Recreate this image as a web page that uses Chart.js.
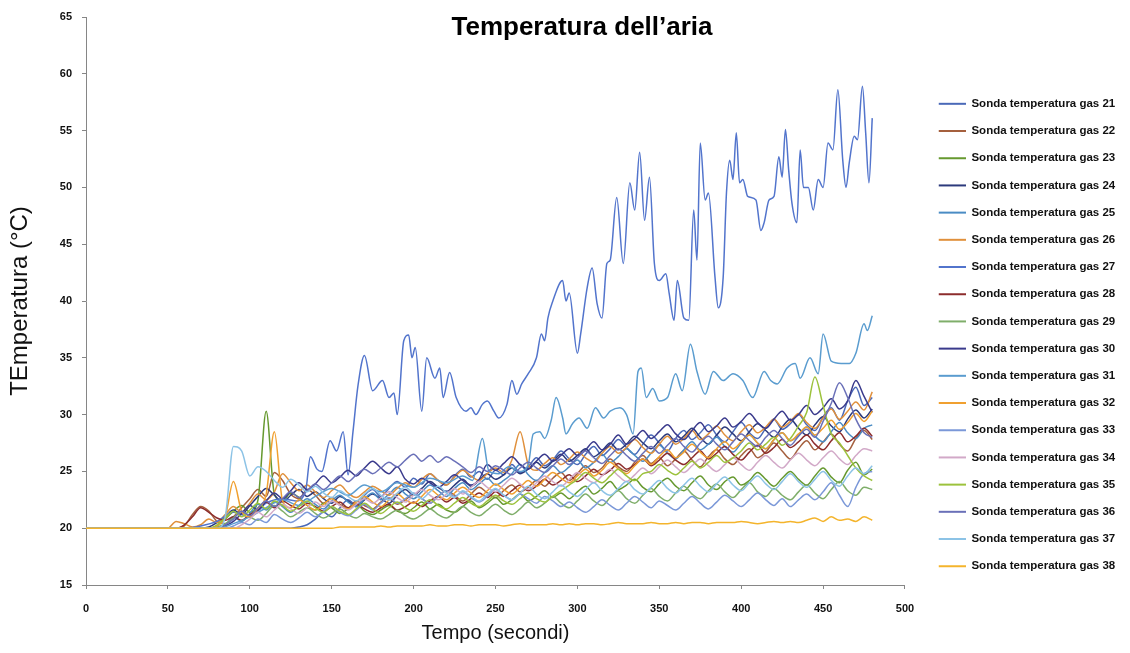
<!DOCTYPE html>
<html>
<head>
<meta charset="utf-8">
<script src="https://cdn.jsdelivr.net/npm/chart.js@4.4.1/dist/chart.umd.min.js"></script>
<style>
  html, body { margin: 0; padding: 0; background: #ffffff; }
  #wrap { width: 1130px; height: 653px; position: relative; }
</style>
</head>
<body>
<div id="wrap"><canvas id="grafico"></canvas></div>
<script>
// Istanti di campionamento comuni (secondi)
const tempo = [
  0, 50, 55, 60, 65, 70, 75, 80, 85, 90,
  95, 100, 105, 110, 115, 120, 125, 130, 135, 140,
  145, 150, 155, 160, 165, 170, 175, 180, 185, 190,
  195, 200, 205, 210, 215, 220, 225, 230, 235, 240,
  245, 250, 255, 260, 265, 270, 275, 280, 285, 290,
  295, 300, 305, 310, 315, 320, 325, 330, 335, 340,
  345, 350, 355, 360, 365, 370, 375, 380, 385, 390,
  395, 400, 405, 410, 415, 420, 425, 430, 435, 440,
  445, 450, 455, 460, 465, 470, 475, 480
];

// Temperature (°C) delle sonde campionate su "tempo"
const sonda21 = [
  20, 20, 20, 20, 20, 20, 20, 20, 20, 20,
  20, 20, 20, 20, 20, 20, 20, 20.1, 20.3, 20.8,
  21.4, 21.0, 21.8, 22.5, 22.0, 22.9, 23.4, 22.8, 23.5, 24.1,
  23.6, 24.4, 23.9, 24.8, 24.2, 23.8, 24.6, 25.2, 24.5, 25.0,
  24.3, 25.1, 24.7, 25.6, 24.9, 25.4, 26.2, 25.5, 26.0, 26.8,
  26.1, 25.6, 26.5, 27.2, 26.4, 27.0, 27.8, 27.1, 26.5, 27.4,
  28.2, 27.5, 26.8, 27.9, 28.6, 27.8, 28.4, 29.1, 28.2, 27.6,
  28.5, 29.3, 28.4, 27.9, 28.8, 29.6, 28.7, 29.2, 30.0, 29.1,
  28.6, 29.8, 30.6, 29.5, 31.2, 32.4, 30.8, 31.5
];
const sonda22 = [
  20, 20, 20, 20.2, 21.2, 21.9, 21.5, 20.6, 20.4, 21.0,
  21.8, 22.6, 23.4, 22.8, 24.9, 24.2, 23.0, 22.6, 23.4, 22.9,
  22.2, 22.7, 22.1, 21.8, 22.4, 22.0, 21.7, 22.3, 22.6, 22.1,
  22.5, 23.0, 22.6, 22.2, 22.8, 23.3, 22.9, 22.4, 23.0, 23.6,
  23.1, 22.7, 23.3, 23.8, 23.2, 23.6, 24.2, 23.7, 24.4, 24.9,
  24.2, 24.8, 25.5, 24.9, 25.3, 26.1, 25.4, 25.0, 25.8, 26.4,
  25.7, 26.2, 25.5, 26.1, 26.8, 26.0, 25.4, 26.3, 26.9, 26.1,
  25.6, 26.4, 27.0, 26.2, 26.7, 27.5, 26.8, 26.1, 27.0, 27.7,
  26.9, 27.6, 28.3, 27.4, 26.8, 27.9, 28.6, 27.8
];
const sonda23 = [
  20, 20, 20, 20, 20, 20, 20, 20.2, 20.8, 21.5,
  22.0, 21.4, 22.5, 30.3, 23.0, 22.4, 23.1, 22.7, 22.0, 21.6,
  22.2, 21.8, 21.3, 21.7, 22.1, 21.5, 21.2, 21.6, 22.0, 21.5,
  21.3, 21.8, 22.3, 21.7, 22.1, 21.6, 21.4, 21.9, 22.4, 21.8,
  22.2, 22.7, 22.1, 22.5, 23.0, 22.4, 22.8, 23.3, 22.7, 23.1,
  22.6, 23.2, 23.7, 23.0, 23.5, 24.1, 23.4, 23.8, 24.3, 23.6,
  23.2, 23.9, 24.4, 23.7, 23.3, 24.0, 24.6, 23.8, 23.4, 24.1,
  24.5, 23.8, 24.2, 24.9, 24.3, 23.7, 24.4, 25.0, 24.3, 23.8,
  24.6, 25.3, 24.5, 24.0, 25.1, 25.8, 24.7, 25.2
];
const sonda24 = [
  20, 20, 20, 20, 20, 20, 20.1, 20.5, 21.0, 21.6,
  21.2, 22.0, 22.8, 23.5, 22.9, 22.3, 22.9, 23.4, 22.8, 23.2,
  22.6, 22.2, 22.8, 22.4, 21.9, 22.5, 23.0, 22.6, 22.2, 22.9,
  23.4, 22.9, 23.5, 24.1, 23.6, 23.2, 23.8, 24.3, 23.7, 24.2,
  24.8, 24.3, 24.7, 25.3, 24.8, 25.2, 25.8, 25.3, 25.9, 26.5,
  25.9, 26.4, 27.0, 26.3, 26.8, 27.5, 26.9, 27.4, 28.1, 27.5,
  27.0, 27.7, 28.3, 27.6, 28.1, 28.8, 28.0, 27.4, 28.2, 28.9,
  28.3, 27.7, 28.5, 29.2, 28.6, 28.0, 28.9, 29.6, 28.8, 28.2,
  29.1, 29.8, 29.0, 28.5, 29.6, 30.4, 29.7, 30.5
];
const sonda25 = [
  20, 20, 20, 20, 20, 20, 20, 20, 20.3, 21.0,
  20.6, 21.3, 22.1, 21.6, 22.3, 21.9, 21.4, 22.0, 22.6, 22.1,
  21.7, 22.4, 22.9, 22.3, 21.9, 22.6, 23.1, 22.5, 23.0, 23.6,
  23.0, 22.6, 23.2, 23.8, 23.3, 22.8, 23.5, 24.0, 23.4, 23.9,
  24.4, 23.8, 24.2, 24.8, 25.6, 24.7, 24.2, 24.9, 25.5, 24.9,
  25.4, 26.0, 25.3, 25.8, 26.5, 25.8, 26.3, 27.0, 26.4, 25.9,
  26.6, 27.3, 26.6, 26.1, 26.9, 27.6, 26.9, 27.4, 28.0, 27.2,
  26.7, 27.5, 28.2, 27.5, 27.0, 27.8, 28.4, 27.7, 28.2, 28.9,
  28.1, 27.6, 28.5, 29.3, 28.4, 27.9, 28.8, 29.1
];
const sonda26 = [
  20, 20, 20.6, 20.4, 20.1, 20.3, 20.8, 20.5, 21.2, 21.9,
  21.4, 22.2, 23.0, 22.5, 23.2, 24.8, 24.0, 23.3, 23.8, 23.2,
  22.7, 23.3, 23.8, 23.1, 22.7, 23.2, 23.7, 23.3, 22.9, 23.5,
  24.0, 23.6, 24.3, 24.8, 24.2, 23.8, 24.5, 25.1, 24.6, 24.2,
  24.8, 25.3, 24.9, 26.0, 28.5, 25.6, 25.1, 25.7, 26.2, 25.6,
  26.1, 26.7, 26.2, 25.8, 26.6, 27.2, 26.6, 27.1, 27.8, 27.1,
  26.6, 27.4, 28.1, 27.4, 27.9, 28.6, 27.8, 28.3, 29.0, 28.2,
  27.7, 28.5, 29.1, 28.4, 28.9, 29.6, 28.9, 29.4, 30.1, 29.3,
  28.8, 29.7, 30.5, 29.6, 30.3, 31.1, 30.4, 32.0
];
const sonda28 = [
  20, 20, 20, 20.3, 21.0, 21.8, 21.4, 20.9, 20.7, 21.0,
  20.7, 21.2, 21.6, 22.3, 21.8, 22.4, 22.0, 21.7, 22.2, 21.9,
  21.5, 21.9, 22.3, 21.8, 22.1, 21.7, 21.4, 21.8, 22.1, 21.6,
  21.9, 22.3, 21.9, 22.4, 22.8, 22.3, 22.7, 22.2, 22.6, 23.1,
  22.7, 23.2, 22.8, 23.3, 23.8, 23.3, 23.7, 24.3, 23.8, 24.2,
  24.7, 24.1, 24.6, 25.2, 24.7, 25.1, 25.7, 25.2, 25.6, 26.1,
  25.5, 26.0, 26.6, 26.0, 25.6, 26.2, 26.8, 26.1, 26.6, 27.2,
  26.5, 26.0, 26.7, 27.3, 26.6, 27.1, 27.8, 27.1, 27.6, 28.2,
  27.4, 26.9, 27.7, 28.4, 27.6, 28.1, 28.8, 28.1
];
const sonda29 = [
  20, 20, 20, 20, 20, 20, 20, 20.1, 20.4, 20.9,
  21.5, 21.0, 20.7, 21.3, 22.0, 21.5, 21.0, 21.4, 21.8, 21.3,
  20.9, 21.3, 21.7, 21.2, 20.9, 21.3, 21.0, 20.8, 21.2, 21.6,
  21.1, 20.8, 21.2, 21.7, 21.2, 20.9, 21.4, 21.9, 21.4, 21.1,
  21.6, 22.1, 21.6, 21.2, 21.7, 22.3, 21.8, 22.2, 22.8, 22.2,
  21.8, 22.4, 23.0, 22.4, 22.0, 22.7, 23.3, 22.6, 22.2, 22.9,
  23.5, 22.8, 22.4, 23.1, 23.7, 23.0, 22.6, 23.3, 23.9, 23.2,
  22.7, 23.4, 24.0, 23.2, 22.8, 23.5, 22.9, 22.5, 23.2, 23.8,
  23.1, 22.6, 23.4, 24.1, 23.3, 22.9, 23.6, 23.4
];
const sonda30 = [
  20, 20, 20, 20, 20, 20, 20, 20, 20.2, 20.6,
  21.3, 22.0, 21.6, 22.4, 23.1, 22.6, 23.3, 24.0, 23.4, 23.9,
  24.6, 24.0, 24.5, 25.1, 24.6, 25.3, 25.9, 25.3, 24.8, 25.4,
  24.3, 23.9, 24.4, 24.0, 23.6, 24.1, 24.7, 24.2, 23.8, 24.3,
  25.6, 25.1, 25.7, 26.3, 25.6, 25.2, 25.9, 26.5, 25.9, 26.4,
  27.0, 26.4, 26.9, 27.6, 26.9, 27.4, 28.2, 27.4, 27.9, 28.6,
  27.9, 28.5, 29.1, 28.3, 27.8, 28.6, 29.3, 28.5, 29.0, 29.7,
  28.9, 29.4, 30.1, 29.3, 28.8, 29.6, 30.3, 29.5, 30.0, 30.8,
  30.0, 30.6, 31.4, 30.5, 31.2, 33.0, 31.6, 30.2
];
const sonda32 = [
  20, 20, 20, 20, 20, 20, 20, 20.2, 21.0, 24.1,
  21.5, 21.0, 21.8, 23.0, 28.5, 22.4, 21.8, 22.5, 22.0, 21.6,
  22.1, 22.6, 22.0, 21.7, 22.3, 22.8, 22.3, 21.9, 22.5, 23.0,
  22.5, 22.2, 22.8, 23.4, 22.9, 22.5, 23.1, 23.6, 23.1, 22.7,
  23.3, 23.9, 23.4, 23.0, 23.6, 24.2, 23.7, 24.3, 24.9, 24.4,
  24.0, 24.6, 25.2, 24.6, 25.1, 25.8, 25.2, 24.8, 25.5, 26.1,
  25.6, 26.3, 26.9, 26.2, 26.7, 27.4, 26.7, 26.2, 27.0, 27.6,
  27.0, 27.6, 28.2, 27.5, 27.0, 27.8, 28.4, 27.7, 28.3, 28.9,
  28.2, 28.8, 29.5, 28.7, 29.3, 30.1, 29.4, 30.3
];
const sonda33 = [
  20, 20, 20, 20, 20, 20, 20, 20, 20, 20.2,
  20.5, 20.3, 20.8, 20.5, 21.2, 20.8, 20.5, 20.9, 21.4, 21.0,
  21.5, 21.9, 21.4, 21.1, 21.6, 22.1, 21.6, 22.2, 22.7, 22.2,
  22.6, 23.1, 22.6, 22.2, 22.8, 23.3, 22.8, 23.2, 22.7, 22.3,
  22.8, 23.4, 22.9, 22.5, 23.0, 22.6, 22.2, 22.8, 22.4, 21.9,
  22.3, 21.8, 21.4, 21.9, 22.5, 22.0, 21.6, 22.2, 22.8, 22.3,
  21.8, 22.4, 22.0, 21.6, 22.2, 22.8, 22.2, 21.7, 22.3, 22.9,
  22.4, 21.9, 22.5, 23.1, 22.5, 22.0, 22.6, 21.9, 22.5, 23.0,
  22.5, 23.2, 24.0, 22.9, 21.9, 23.6, 24.8, 25.0
];
const sonda34 = [
  20, 20, 20, 20, 20, 20, 20, 20, 20, 20,
  20.3, 20.8, 21.4, 21.0, 21.6, 22.1, 21.7, 21.3, 21.8, 22.3,
  21.9, 22.4, 22.0, 21.6, 22.1, 22.6, 22.2, 22.7, 23.2, 22.7,
  22.3, 22.9, 23.4, 22.9, 22.5, 23.0, 23.5, 23.0, 23.6, 24.1,
  23.6, 23.2, 23.8, 24.4, 23.9, 23.4, 24.0, 24.6, 24.1, 23.7,
  24.3, 24.9, 24.4, 24.0, 24.6, 25.2, 24.6, 24.1, 24.7, 25.3,
  24.8, 25.4, 26.0, 25.4, 24.9, 25.5, 26.1, 25.5, 25.0, 25.6,
  26.2, 25.6, 25.1, 25.8, 26.4, 25.8, 25.3, 26.0, 26.6, 26.0,
  25.5, 26.2, 26.8, 26.1, 25.6, 26.4, 27.0, 26.8
];
const sonda35 = [
  20, 20, 20, 20, 20, 20, 20, 20.3, 20.9, 21.5,
  21.0, 21.6, 22.2, 21.7, 22.4, 22.0, 21.5, 21.9, 22.4, 21.8,
  21.4, 21.9, 21.5, 21.2, 21.7, 22.2, 21.7, 21.3, 21.8, 22.3,
  21.8, 21.5, 22.0, 22.5, 22.0, 21.7, 22.2, 22.7, 22.2, 21.9,
  22.4, 22.9, 22.4, 22.1, 22.6, 23.1, 22.6, 22.3, 22.8, 23.3,
  23.8, 24.3, 24.9, 24.4, 24.0, 24.6, 25.2, 24.6, 24.2, 24.8,
  25.0, 25.6, 25.1, 24.7, 25.3, 25.9, 25.3, 25.8, 26.4, 25.8,
  26.2, 26.8, 27.5, 26.9, 27.4, 28.0, 27.3, 27.9, 29.0, 30.2,
  33.3, 30.8, 28.3, 27.5, 26.4, 25.3, 24.6, 24.2
];
const sonda36 = [
  20, 20, 20, 20, 20, 20, 20, 20, 20.3, 20.8,
  21.5, 21.1, 21.8, 22.4, 21.9, 22.6, 23.2, 22.7, 23.3, 23.9,
  23.4, 24.0, 24.6, 24.1, 24.7, 25.2, 24.8, 25.3, 25.8, 25.4,
  26.0, 26.5, 25.9, 26.4, 25.8, 26.3, 25.9, 25.4, 24.9, 25.4,
  25.0, 25.5, 25.1, 24.7, 25.3, 25.8, 25.3, 24.9, 25.5, 26.1,
  25.6, 26.2, 26.8, 26.2, 25.7, 26.4, 27.0, 26.4, 25.9, 26.6,
  27.2, 26.6, 27.3, 27.9, 27.2, 26.7, 27.5, 28.1, 27.4, 26.9,
  27.6, 28.3, 27.7, 27.2, 28.0, 28.6, 27.9, 27.3, 28.1, 28.7,
  28.0, 29.4, 31.0, 32.8, 31.5, 29.6, 28.4, 28.0
];
const sonda37 = [
  20, 20, 20, 20, 20, 20, 20, 20, 21.0, 27.2,
  26.8, 24.6, 25.4, 25.0, 24.2, 23.6, 24.3, 23.8, 23.2, 23.7,
  23.1, 22.7, 23.3, 22.8, 22.4, 23.0, 23.5, 22.9, 22.5, 23.1,
  23.6, 23.0, 22.6, 23.2, 23.7, 23.1, 22.7, 23.3, 22.8, 22.4,
  23.0, 23.5, 22.9, 22.5, 23.1, 23.7, 23.0, 22.6, 23.2, 23.8,
  23.2, 22.8, 23.4, 24.0, 23.3, 22.9, 23.5, 24.1, 23.4, 23.0,
  23.6, 24.2, 23.5, 23.1, 23.8, 24.4, 23.7, 23.2, 23.9, 24.5,
  23.8, 23.3, 24.0, 24.6, 23.9, 23.4, 24.1, 24.8, 24.1, 23.6,
  24.3, 25.0, 24.2, 23.7, 24.6, 25.3, 24.8, 25.5
];
const sonda38 = [
  20, 20, 20, 20, 20, 20, 20, 20, 20, 20,
  20, 20, 20, 20, 20, 20, 20, 20, 20, 20,
  20, 20, 20.1, 20.1, 20.1, 20.1, 20.1, 20.2, 20.1, 20.2,
  20.2, 20.2, 20.2, 20.3, 20.2, 20.2, 20.3, 20.3, 20.2, 20.3,
  20.3, 20.3, 20.2, 20.3, 20.4, 20.3, 20.3, 20.3, 20.4, 20.3,
  20.4, 20.3, 20.4, 20.4, 20.3, 20.4, 20.5, 20.4, 20.4, 20.4,
  20.5, 20.4, 20.4, 20.5, 20.4, 20.5, 20.5, 20.4, 20.5, 20.5,
  20.5, 20.6, 20.5, 20.4, 20.5, 20.6, 20.5, 20.6, 20.5, 20.7,
  20.9, 20.6, 21.0, 20.7, 20.8, 20.6, 21.0, 20.7
];

// Sonda 27: registrazione più fitta (istanti propri)
const tempo27 = [
  0, 60, 70, 80, 90, 100, 110, 120, 128, 134,
  137, 141, 144, 149, 153, 157, 160, 163, 166, 170,
  175, 181, 185, 188, 190, 194, 197, 199, 201, 205,
  208, 213, 216, 218, 222, 226, 232, 235, 238, 242,
  245, 249, 252, 257, 260, 263, 266, 270, 275, 278,
  280, 282, 285, 291, 293, 295, 300, 302, 306, 309,
  312, 315, 318, 320, 324, 328, 332, 335, 338, 341,
  344, 347, 350, 354, 356, 359, 361, 365, 368, 371,
  373, 375, 378, 380, 384, 386, 389, 391, 393, 395,
  397, 399, 401, 404, 409, 412, 414, 417, 420, 423,
  425, 427, 429, 431, 434, 436, 438, 441, 444, 447,
  450, 453, 456, 459, 462, 464, 466, 469, 471, 474,
  476, 478, 480
];
const sonda27 = [
  20, 20, 20.2, 20.6, 21.4, 21.0, 22.2, 22.6, 22.4, 23.2,
  26.3, 25.2, 25.0, 27.7, 26.8, 28.5, 24.7, 28.5, 32.5, 35.2,
  32.1, 33.0, 31.5, 31.9, 30.0, 36.5, 37.0, 35.0, 35.9, 30.3,
  35.0, 33.2, 34.1, 31.5, 33.7, 31.5, 30.3, 30.6, 30.0, 30.9,
  31.2, 30.3, 29.7, 30.9, 33.0, 31.8, 32.7, 33.6, 35.0, 37.1,
  36.5, 38.5, 40.0, 41.8, 40.0, 40.7, 35.4, 37.1, 41.2, 42.9,
  39.8, 38.5, 43.3, 43.6, 49.1, 43.3, 50.4, 48.0, 53.1, 47.1,
  50.9, 43.3, 41.8, 42.4, 40.7, 38.3, 41.8, 38.5, 38.3, 48.0,
  43.6, 53.9, 48.9, 49.5, 42.1, 39.4, 42.1, 49.5, 52.4, 50.7,
  54.8, 50.4, 50.7, 49.2, 48.9, 46.2, 46.9, 48.9, 49.2, 52.7,
  50.9, 55.1, 51.5, 48.6, 46.9, 53.3, 50.0, 50.0, 48.0, 50.7,
  50.0, 53.9, 53.3, 58.6, 52.4, 50.0, 52.2, 54.5, 54.2, 58.9,
  54.8, 50.4, 56.1
];

// Sonda 31: registrazione più fitta (istanti propri)
const tempo31 = [
  0, 80, 90, 100, 110, 120, 130, 140, 150, 160,
  170, 180, 190, 200, 210, 220, 230, 236, 242, 246,
  252, 258, 265, 270, 273, 277, 280, 284, 287, 291,
  293, 297, 301, 306, 311, 316, 320, 326, 330, 334,
  337, 339, 342, 346, 350, 355, 360, 364, 369, 373,
  378, 383, 389, 395, 401, 407, 414, 418, 422, 428,
  433, 436, 442, 447, 450, 455, 461, 466, 470, 475,
  477, 480
];
const sonda31 = [
  20, 20, 20.4, 21.0, 21.8, 22.5, 22.0, 22.8, 23.5, 22.9,
  23.8, 23.2, 24.0, 23.6, 24.4, 24.0, 24.6, 24.2, 27.9, 25.0,
  24.8, 25.4, 25.0, 25.6, 28.3, 28.5, 27.9, 29.5, 31.5, 29.7,
  28.3, 29.2, 29.7, 28.8, 30.6, 29.7, 30.3, 30.6, 30.0, 28.3,
  33.8, 34.1, 31.5, 32.3, 31.2, 31.5, 33.6, 32.1, 36.2, 33.8,
  31.8, 33.8, 33.0, 33.6, 33.0, 31.5, 33.8, 33.0, 32.7, 34.1,
  34.5, 33.2, 35.0, 33.6, 37.1, 34.7, 34.5, 34.5, 35.4, 38.0,
  37.4, 38.7
];

// Sonde in ordine di legenda, con i rispettivi colori
const sonde = [
  { nome: 'Sonda temperatura gas 21', t: tempo,   v: sonda21, colore: '#4a69b8' },
  { nome: 'Sonda temperatura gas 22', t: tempo,   v: sonda22, colore: '#a5603e' },
  { nome: 'Sonda temperatura gas 23', t: tempo,   v: sonda23, colore: '#66992f' },
  { nome: 'Sonda temperatura gas 24', t: tempo,   v: sonda24, colore: '#2c3a7c' },
  { nome: 'Sonda temperatura gas 25', t: tempo,   v: sonda25, colore: '#4a8cc4' },
  { nome: 'Sonda temperatura gas 26', t: tempo,   v: sonda26, colore: '#e0903c' },
  { nome: 'Sonda temperatura gas 27', t: tempo27, v: sonda27, colore: '#5274cc' },
  { nome: 'Sonda temperatura gas 28', t: tempo,   v: sonda28, colore: '#8c2c2c' },
  { nome: 'Sonda temperatura gas 29', t: tempo,   v: sonda29, colore: '#7fae6a' },
  { nome: 'Sonda temperatura gas 30', t: tempo,   v: sonda30, colore: '#3a3a8c' },
  { nome: 'Sonda temperatura gas 31', t: tempo31, v: sonda31, colore: '#5a9ccf' },
  { nome: 'Sonda temperatura gas 32', t: tempo,   v: sonda32, colore: '#f0a030' },
  { nome: 'Sonda temperatura gas 33', t: tempo,   v: sonda33, colore: '#7b98d8' },
  { nome: 'Sonda temperatura gas 34', t: tempo,   v: sonda34, colore: '#d2a9c8' },
  { nome: 'Sonda temperatura gas 35', t: tempo,   v: sonda35, colore: '#9cc23c' },
  { nome: 'Sonda temperatura gas 36', t: tempo,   v: sonda36, colore: '#6a70b8' },
  { nome: 'Sonda temperatura gas 37', t: tempo,   v: sonda37, colore: '#8cc3e6' },
  { nome: 'Sonda temperatura gas 38', t: tempo,   v: sonda38, colore: '#f4b42c' }
];

const FONT = '"Liberation Sans", Arial, sans-serif';
Chart.defaults.font.family = FONT;

// Simbolo di legenda: tratto di linea preceduto da un margine trasparente
function simboloLegenda(colore) {
  const c = document.createElement('canvas');
  c.width = 45;
  c.height = 4;
  const g = c.getContext('2d');
  g.strokeStyle = colore;
  g.lineWidth = 2;
  g.beginPath();
  g.moveTo(18, 2);
  g.lineTo(45, 2);
  g.stroke();
  return c;
}

// Le sonde successive vengono disegnate sopra le precedenti
const datasets = sonde.map(s => ({
  label: s.nome,
  data: s.v.map((y, i) => ({ x: s.t[i], y: y })),
  borderColor: s.colore,
  backgroundColor: s.colore,
  borderWidth: 1.5,
  pointRadius: 0,
  pointHoverRadius: 0,
  pointStyle: simboloLegenda(s.colore),
  fill: false,
  cubicInterpolationMode: 'monotone'
})).reverse();

const sfondo = {
  id: 'sfondo',
  beforeDraw(chart) {
    const ctx = chart.ctx;
    ctx.save();
    ctx.fillStyle = '#ffffff';
    ctx.fillRect(0, 0, chart.width, chart.height);
    ctx.restore();
  }
};

const titolo = {
  id: 'titolo',
  afterDraw(chart) {
    const ctx = chart.ctx;
    ctx.save();
    ctx.font = 'bold 26px ' + FONT;
    ctx.fillStyle = '#000000';
    ctx.textAlign = 'center';
    ctx.textBaseline = 'middle';
    ctx.fillText('Temperatura dell\u2019aria', 582, 28);
    ctx.restore();
  }
};

new Chart(document.getElementById('grafico'), {
  type: 'line',
  data: { datasets },
  plugins: [sfondo, titolo],
  options: {
    responsive: true,
    maintainAspectRatio: false,
    animation: false,
    layout: { padding: { top: 17, right: 4.75, bottom: 0, left: 0 } },
    plugins: {
      title: { display: false },
      tooltip: { enabled: false },
      legend: {
        position: 'right',
        reverse: true,
        labels: {
          usePointStyle: true,
          pointStyleWidth: 45,
          padding: 15.7,
          color: '#111111',
          font: { size: 11.5, weight: 'bold', family: FONT }
        }
      }
    },
    scales: {
      x: {
        type: 'linear',
        min: 0,
        max: 500,
        ticks: { stepSize: 50, padding: 13, color: '#111111', font: { size: 11, weight: 'bold' } },
        grid: { display: true, drawOnChartArea: false, tickLength: 4, color: '#868686' },
        border: { color: '#868686', width: 1 },
        title: { display: true, text: 'Tempo (secondi)', color: '#111111', font: { size: 20 }, padding: { top: 0, bottom: 8 } },
        afterFit(scale) { scale.height = 68; }
      },
      y: {
        type: 'linear',
        min: 15,
        max: 65,
        ticks: { stepSize: 5, padding: 10, color: '#111111', font: { size: 11, weight: 'bold' } },
        grid: { display: true, drawOnChartArea: false, tickLength: 4, color: '#868686' },
        border: { color: '#868686', width: 1 },
        title: { display: true, text: 'TEmperatura (\u00B0C)', color: '#111111', font: { size: 24 }, padding: { top: 6, bottom: 0 } },
        afterFit(scale) { scale.width = 86; }
      }
    }
  }
});
</script>
</body>
</html>
